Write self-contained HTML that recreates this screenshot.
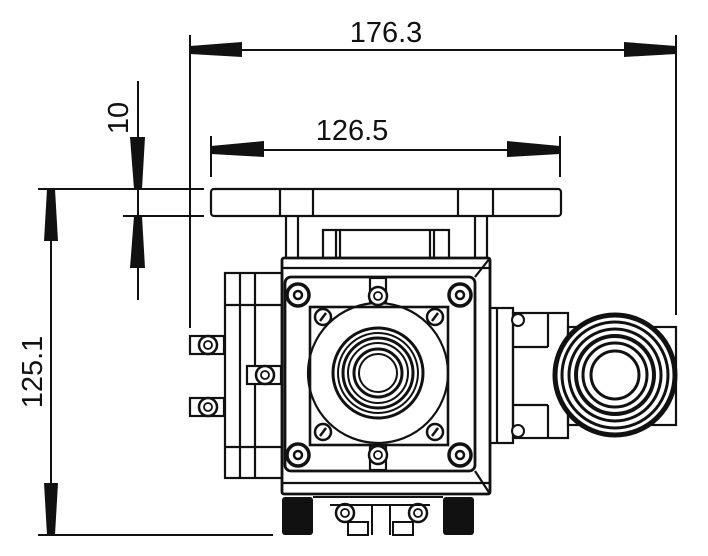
<!DOCTYPE html>
<html><head><style>html,body{margin:0;padding:0;background:#fff}svg{display:block}</style></head>
<body>
<svg width="708" height="556" viewBox="0 0 708 556" xmlns="http://www.w3.org/2000/svg">
<g fill="none" stroke="#111" stroke-width="2">
<!-- dimension lines -->
<line x1="190" y1="35" x2="190" y2="328"/>
<line x1="676" y1="35" x2="676" y2="315"/>
<line x1="190" y1="50" x2="676" y2="50"/>
<line x1="211" y1="136" x2="211" y2="177"/>
<line x1="560" y1="136" x2="560" y2="177"/>
<line x1="211" y1="150" x2="560" y2="150"/>
<line x1="138" y1="81" x2="138" y2="300"/>
<line x1="38" y1="189" x2="204" y2="189"/>
<line x1="123" y1="216" x2="204" y2="216"/>
<line x1="51" y1="189" x2="51" y2="535"/>
<line x1="38" y1="535" x2="273" y2="535"/>
</g>
<g fill="#111">
<polygon points="190,46 190,54 242,57 242,42"/>
<polygon points="676,46 676,54 624,57 624,42"/>
<polygon points="211,146 211,154 264,157 264,141"/>
<polygon points="560,146 560,154 507,157 507,141"/>
<polygon points="134,189 142,189 145,137 130,137"/>
<polygon points="134,216 142,216 145,268 130,268"/>
<polygon points="47,189 55,189 58,241 44,241"/>
<polygon points="47,535 55,535 58,483 44,483"/>
</g>
<g font-family="Liberation Sans, sans-serif" font-size="29" fill="#111" text-anchor="middle">
<text x="386" y="42">176.3</text>
<text x="352" y="140">126.5</text>
<text transform="translate(128,118) rotate(-90)">10</text>
<text transform="translate(42,372) rotate(-90)">125.1</text>
</g>
<g fill="none" stroke="#111" stroke-width="2.2">
<!-- top plate -->
<rect x="211" y="189" width="350" height="27" rx="3"/>
<line x1="280" y1="189" x2="280" y2="216"/><line x1="313" y1="189" x2="313" y2="216"/>
<line x1="458" y1="189" x2="458" y2="216"/><line x1="493" y1="189" x2="493" y2="216"/>
<!-- column -->
<line x1="286" y1="216" x2="286" y2="258"/><line x1="298" y1="216" x2="298" y2="258"/>
<line x1="475" y1="216" x2="475" y2="258"/><line x1="487" y1="216" x2="487" y2="258"/>
<rect x="323" y="230" width="126" height="28"/>
<line x1="336" y1="230" x2="336" y2="258"/><line x1="340" y1="230" x2="340" y2="258"/>
<line x1="430" y1="230" x2="430" y2="258"/><line x1="434" y1="230" x2="434" y2="258"/>
<!-- main body -->
<rect x="282" y="258" width="208" height="236" rx="2" stroke-width="2.8"/>
<line x1="282" y1="268" x2="490" y2="268"/>
<line x1="282" y1="483" x2="490" y2="483"/>
<rect x="285" y="277" width="190" height="194" rx="6" stroke-width="2.8"/>
<line x1="490" y1="258" x2="475" y2="277"/><line x1="490" y1="494" x2="475" y2="471"/>
<rect x="310" y="307" width="138" height="138" stroke-width="2.6"/>
<circle cx="378" cy="373" r="70"/>
<circle cx="378" cy="373" r="45" stroke-width="3"/>
<circle cx="378" cy="373" r="40" stroke-width="2"/>
<circle cx="378" cy="373" r="35" stroke-width="3"/>
<circle cx="378" cy="373" r="30" stroke-width="2"/>
<circle cx="378" cy="373" r="24" stroke-width="3"/>
<circle cx="378" cy="373" r="19" stroke-width="2"/>
<!-- left housing -->
<rect x="225" y="273" width="57" height="205"/>
<line x1="240" y1="273" x2="240" y2="478"/><line x1="255" y1="273" x2="255" y2="478"/>
<line x1="225" y1="305" x2="282" y2="305"/><line x1="225" y1="447" x2="282" y2="447"/>
<!-- right side -->
<rect x="490" y="308" width="23" height="135"/>
<line x1="497" y1="308" x2="497" y2="443"/>
<rect x="513" y="313" width="55" height="125"/>
<line x1="513" y1="347" x2="548" y2="347"/><line x1="548" y1="313" x2="548" y2="347"/>
<line x1="513" y1="405" x2="548" y2="405"/><line x1="548" y1="405" x2="548" y2="438"/>
<rect x="568" y="327" width="108" height="98"/>
</g>
<g fill="#fff" stroke="#111">
<circle cx="615" cy="375" r="60" stroke-width="5"/>
<circle cx="615" cy="375" r="53" stroke-width="3"/>
<circle cx="615" cy="375" r="46" stroke-width="3"/>
<circle cx="615" cy="375" r="39" stroke-width="4"/>
<circle cx="615" cy="375" r="32" stroke-width="3"/>
<circle cx="615" cy="375" r="24" stroke-width="3"/>
<circle cx="518" cy="320" r="6" stroke-width="2"/>
<circle cx="518" cy="431" r="6" stroke-width="2"/>
</g>
<!-- screws -->
<g stroke="#111" fill="#fff">
<g stroke-width="3.5">
<circle cx="298" cy="295" r="11"/><circle cx="460" cy="295" r="11"/>
<circle cx="298" cy="455" r="11"/><circle cx="460" cy="455" r="11"/>
</g>
<g stroke-width="2.5">
<circle cx="298" cy="295" r="4"/><circle cx="460" cy="295" r="4"/>
<circle cx="298" cy="455" r="4"/><circle cx="460" cy="455" r="4"/>
</g>
<g stroke-width="2.5">
<circle cx="323" cy="317" r="8"/><circle cx="435" cy="317" r="8"/>
<circle cx="323" cy="432" r="8"/><circle cx="435" cy="432" r="8"/>
</g>
<g stroke-width="2.2">
<rect x="370" y="278" width="16" height="24"/><rect x="370" y="446" width="16" height="24"/>
<rect x="190" y="336" width="34" height="18"/><rect x="190" y="398" width="34" height="18"/><rect x="247" y="366" width="34" height="18"/>
</g>
<g stroke-width="2.5">
<circle cx="378" cy="296" r="9"/><circle cx="378" cy="455" r="9"/>
<circle cx="208" cy="345" r="9"/><circle cx="208" cy="407" r="9"/><circle cx="265" cy="375" r="9"/>
<circle cx="345" cy="513" r="9"/><circle cx="418" cy="513" r="9"/>
</g>
<g stroke-width="1.8">
<circle cx="378" cy="296" r="4"/><circle cx="378" cy="455" r="4"/>
<circle cx="208" cy="345" r="4"/><circle cx="208" cy="407" r="4"/><circle cx="265" cy="375" r="4"/>
<circle cx="345" cy="513" r="4"/><circle cx="418" cy="513" r="4"/>
</g>
</g>
<g stroke="#111" stroke-width="2.5">
<line x1="320" y1="321" x2="326" y2="313"/><line x1="432" y1="321" x2="438" y2="313"/>
<line x1="320" y1="436" x2="326" y2="428"/><line x1="432" y1="436" x2="438" y2="428"/>
</g>
<!-- bottom -->
<g fill="#111">
<rect x="282" y="497" width="31" height="38" rx="3"/>
<rect x="443" y="497" width="31" height="38" rx="3"/>
</g>
<g fill="none" stroke="#111" stroke-width="2">
<line x1="313" y1="497" x2="443" y2="497"/>
<line x1="330" y1="505" x2="430" y2="505"/>
<rect x="348" y="522" width="20" height="13"/><rect x="393" y="522" width="20" height="13"/>
<line x1="372" y1="505" x2="372" y2="535"/><line x1="390" y1="505" x2="390" y2="535"/>
</g>
</svg>
</body></html>
